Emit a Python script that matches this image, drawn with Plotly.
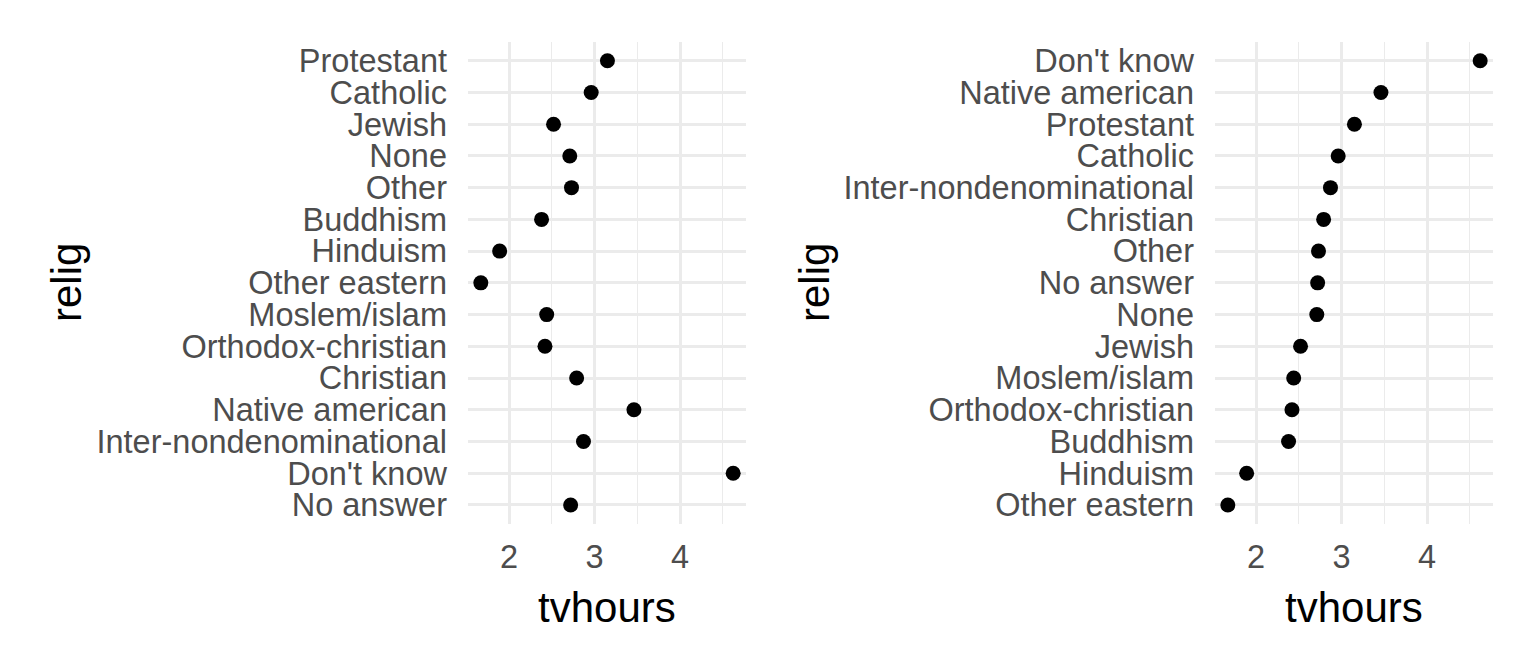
"""Mean TV hours by religion: factor order vs. reordered by value."""

import plotly.graph_objects as go

# data (gss_cat style): levels in factor order, bottom to top
relig = [
    "No answer",
    "Don't know",
    "Inter-nondenominational",
    "Native american",
    "Christian",
    "Orthodox-christian",
    "Moslem/islam",
    "Other eastern",
    "Hinduism",
    "Buddhism",
    "Other",
    "None",
    "Jewish",
    "Catholic",
    "Protestant",
]
tvhours = [2.72, 4.62, 2.87, 3.46, 2.79, 2.42, 2.44, 1.67, 1.89, 2.38, 2.73, 2.71, 2.52, 2.96, 3.15]
x_ticks = [2, 3, 4]

# reordered panel: sorted by tvhours ascending (lowest at bottom)
order = sorted(range(len(relig)), key=lambda i: tvhours[i])
relig_sorted = [relig[i] for i in order]
tvhours_sorted = [tvhours[i] for i in order]

W, H = 1536, 672
OFF = 8  # page body margin shifts the figure by this many px
FONT = "Liberation Sans, Arial, sans-serif"
GRID = "#EBEBEB"
TICK_COL = "#4D4D4D"


def px_x(v):
    return (v - OFF) / W


def px_y(v):
    return 1 - (v - OFF) / H


fig = go.Figure()
fig.add_trace(
    go.Scatter(
        x=tvhours, y=relig, mode="markers", xaxis="x", yaxis="y",
        marker=dict(size=15, color="black"), showlegend=False,
    )
)
fig.add_trace(
    go.Scatter(
        x=tvhours_sorted, y=relig_sorted, mode="markers", xaxis="x2", yaxis="y2",
        marker=dict(size=15, color="black"), showlegend=False,
    )
)


def _xaxis(domain, anchor):
    return dict(
        domain=domain, anchor=anchor, range=[1.52, 4.77],
        tickmode="array", tickvals=x_ticks, ticktext=[str(t) for t in x_ticks],
        showgrid=True, gridcolor=GRID, gridwidth=2.6, zeroline=False, showline=False,
        minor=dict(dtick=0.5, tick0=0, showgrid=True, gridcolor=GRID, gridwidth=1.3),
        ticks="", ticklabelstandoff=10,
        tickfont=dict(family=FONT, size=32.5, color=TICK_COL),
    )


def _yaxis(cats, anchor):
    return dict(
        domain=[px_y(524), px_y(41.7)], anchor=anchor, type="category",
        categoryorder="array", categoryarray=cats, range=[-0.6, len(cats) - 0.4],
        tickmode="array", tickvals=cats, ticktext=cats,
        showgrid=True, gridcolor=GRID, gridwidth=2.6, zeroline=False, showline=False,
        ticks="", ticklabelstandoff=20,
        tickfont=dict(family=FONT, size=32.5, color=TICK_COL),
    )


fig.update_layout(
    width=W, height=H,
    margin=dict(l=0, r=0, t=0, b=0),
    paper_bgcolor="white", plot_bgcolor="white",
    font=dict(family=FONT),
    xaxis=_xaxis([px_x(468), px_x(746)], "y"),
    yaxis=_yaxis(relig, "x"),
    xaxis2=_xaxis([px_x(1215), px_x(1493)], "y2"),
    yaxis2=_yaxis(relig_sorted, "x2"),
)

title_font = dict(family=FONT, size=42, color="black")
for xc in (607, 1354):
    fig.add_annotation(
        text="tvhours", xref="paper", yref="paper", x=px_x(xc), y=px_y(607),
        xanchor="center", yanchor="middle", showarrow=False, font=title_font,
    )
for xc in (66, 814):
    fig.add_annotation(
        text="relig", xref="paper", yref="paper", x=px_x(xc), y=px_y(283),
        xanchor="center", yanchor="middle", textangle=-90, showarrow=False, font=title_font,
    )

fig.write_html("out.html")
